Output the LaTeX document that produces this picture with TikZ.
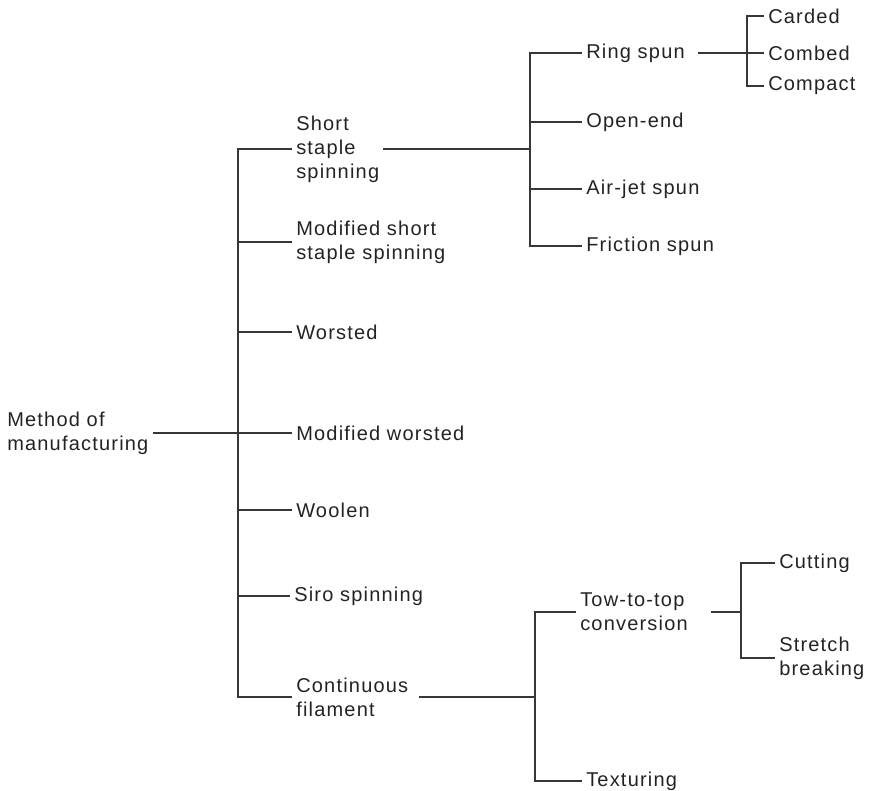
\documentclass[tikz,border=0pt]{standalone}
\usepackage{fontspec}
\setmainfont{Liberation Sans}[LetterSpace=6]
\definecolor{inkcolor}{RGB}{35,35,35}
\definecolor{linecolor}{RGB}{55,55,55}
\tikzset{
  leaf/.style = {font=\fontsize{15}{18}\selectfont, text=inkcolor, align=left,
                 anchor=west, inner xsep=3pt, inner ysep=0pt},
  link/.style = {draw=linecolor, line width=1pt},
}
\begin{document}
\begin{tikzpicture}[x=0.75pt, y=-0.75pt]
  \useasboundingbox (0,0) rectangle (870,790);
  % root and first level
  \node[leaf] (root) at (3,433) {Method of\\manufacturing};
  \coordinate (j0) at (238,433);
  \node[leaf] (short)      at (292,149) {Short\\staple\\spinning};
  \node[leaf] (modshort)   at (292,242) {Modified short\\staple spinning};
  \node[leaf] (worsted)    at (292,332) {Worsted};
  \node[leaf] (modworsted) at (292,433) {Modified worsted};
  \node[leaf] (woolen)     at (292,510) {Woolen};
  \node[leaf] (siro)       at (290,596) {Siro spinning};
  \node[leaf] (contfil)    at (292,697) {Continuous\\filament};
  \draw[link] (root) -- (j0);
  \foreach \c in {short, modshort, worsted, modworsted, woolen, siro, contfil} {
    \draw[link] (j0) |- (\c);
  }
  % short staple branch
  \coordinate (j1) at (530,149);
  \node[leaf] (ring)     at (582,53)  {Ring spun};
  \node[leaf] (openend)  at (582,122) {Open-end};
  \node[leaf] (airjet)   at (582,189) {Air-jet spun};
  \node[leaf] (friction) at (582,246) {Friction spun};
  \draw[link] (short) -- (j1);
  \foreach \c in {ring, openend, airjet, friction} {
    \draw[link] (j1) |- (\c);
  }
  % ring spun branch
  \coordinate (j2) at (747,53);
  \node[leaf] (carded)  at (764,16) {Carded};
  \node[leaf] (combed)  at (764,53) {Combed};
  \node[leaf] (compact) at (764,86) {Compact};
  \draw[link, shorten <=7pt] (ring) -- (j2);
  \foreach \c in {carded, combed, compact} {
    \draw[link] (j2) |- (\c);
  }
  % continuous filament branch
  \coordinate (j3) at (535,697);
  \node[leaf] (tow)       at (576,612) {Tow-to-top\\conversion};
  \node[leaf] (texturing) at (582,781) {Texturing};
  \draw[link, shorten <=5pt] (contfil) -- (j3);
  \draw[link] (j3) |- (tow);
  \draw[link] (j3) |- (texturing);
  % tow-to-top branch
  \coordinate (j4) at (741,612);
  \node[leaf] (cutting) at (775,563) {Cutting};
  \node[leaf] (stretch) at (775,658) {Stretch\\breaking};
  \draw[link, shorten <=14pt] (tow) -- (j4);
  \draw[link] (j4) |- (cutting);
  \draw[link] (j4) |- (stretch);
\end{tikzpicture}
\end{document}
